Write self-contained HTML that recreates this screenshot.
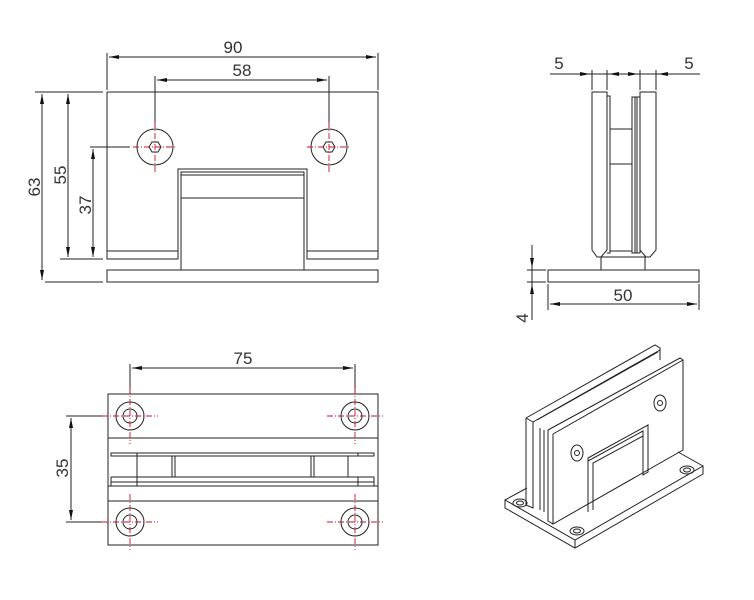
<!DOCTYPE html>
<html><head><meta charset="utf-8"><style>
html,body{margin:0;padding:0;background:#fff;}
svg{display:block;}
text{font-family:"Liberation Sans",sans-serif;font-size:17px;fill:#333;}
</style></head><body>
<svg width="754" height="600" viewBox="0 0 754 600" xmlns="http://www.w3.org/2000/svg">
<defs>
<marker id="a" markerWidth="10" markerHeight="6" refX="10" refY="3" orient="auto-start-reverse" markerUnits="userSpaceOnUse"><path d="M0,1 L10,3 L0,5z" fill="#111"/></marker>
</defs>
<g fill="none" stroke="#222" stroke-width="1">
<path d="M107,92 H378 V259 H307 V251 H378 M107,92 V259 H178 V251 H107"/>
<rect x="107" y="270" width="271" height="12"/>
<path d="M178,259 V169 H307 V259 M181,270 V172 H304 V270 M181,175 H304 M181,198 H304"/>
<circle cx="155" cy="147" r="18"/><circle cx="329" cy="147" r="18"/>
<polygon points="161,147 158,152 152,152 149,147 152,142 158,142"/>
<polygon points="335,147 332,152 326,152 323,147 326,142 332,142"/>
<path d="M107,53 V90 M378,53 V90 M155,76 V128 M329,76 V128"/>
<path d="M109,57 H376" marker-start="url(#a)" marker-end="url(#a)"/>
<path d="M157,80 H327" marker-start="url(#a)" marker-end="url(#a)"/>
<path d="M35,92 H103 M45,282 H103 M60,259 H103 M90,147 H130"/>
<path d="M42,94 V280" marker-start="url(#a)" marker-end="url(#a)"/>
<path d="M68,94 V257" marker-start="url(#a)" marker-end="url(#a)"/>
<path d="M93,149 V257" marker-start="url(#a)" marker-end="url(#a)"/>

<path d="M592,92 H607 V250 L601,257 L597,257 L592,250 Z"/>
<path d="M640,92 H656 V250 L650,257 L646,257 L640,250 Z"/>
<path d="M607,96 H610 V253 H607 M610,129 H632 M610,164 H632 M610,251 H632 M632,97 H640 V253 H632 Z M635,97 V253 M637,97 V253"/>
<rect x="601" y="257" width="44" height="13"/>
<rect x="548" y="270" width="151" height="12"/>
<path d="M592,70 V90 M607,70 V90 M640,70 V90 M656,70 V90 M550,74 H700"/>
<path d="M578,74 H590" marker-end="url(#a)"/><path d="M621,74 H609" marker-end="url(#a)"/>
<path d="M626,74 H638" marker-end="url(#a)"/><path d="M670,74 H658" marker-end="url(#a)"/>
<path d="M548,284 V310 M699,284 V310"/>
<path d="M550,304 H697" marker-start="url(#a)" marker-end="url(#a)"/>
<path d="M527,270 H546 M527,282 H546 M532,245 V320"/>
<path d="M532,257 V268" marker-end="url(#a)"/><path d="M532,296 V284" marker-end="url(#a)"/>

<rect x="108" y="394" width="270" height="151"/>
<path d="M108,438 H378 M108,486 H378 M108,501 H378 M111,453 H374 V456 H111 Z M111,477 H374 V486 M111,477 V486 M111,482 H374 M137,453 V456 M358,453 V456 M137,477 V486 M358,477 V486"/>
<path d="M137,456 V477 M172,456 V477 M175,456 V477 M311,456 V477 M314,456 V477 M348,456 V477"/>
<circle cx="130" cy="416" r="14"/><circle cx="130" cy="416" r="7"/>
<circle cx="355" cy="416" r="14"/><circle cx="355" cy="416" r="7"/>
<circle cx="130" cy="522" r="14"/><circle cx="130" cy="522" r="7"/>
<circle cx="355" cy="522" r="14"/><circle cx="355" cy="522" r="7"/>
<path d="M130,364 V394 M355,364 V394"/>
<path d="M132,368 H353" marker-start="url(#a)" marker-end="url(#a)"/>
<path d="M66,416 H105 M66,522 H105"/>
<path d="M71,418 V520" marker-start="url(#a)" marker-end="url(#a)"/>

<path d="M505,500 L575,540 L703,466 L703,474 L575,548 L505,508 Z M575,540 V548"/>
<path d="M505,500 L527,488 M678,452 L703,466"/>
<ellipse cx="520" cy="503" rx="7" ry="4"/><ellipse cx="520" cy="503" rx="3.5" ry="2"/>
<ellipse cx="577" cy="531" rx="7" ry="4"/><ellipse cx="577" cy="531" rx="3.5" ry="2"/>
<ellipse cx="687" cy="470" rx="7" ry="4"/><ellipse cx="687" cy="470" rx="3.5" ry="2"/>
<path d="M526,418 L655,345 L660,348 L660,360 M526,418 V505 L533,508 V422 L660,350 M533,422 L526,418"/>
<path d="M537,420 L658,352 M540,428 V510 M544,430 V512"/>
<path d="M548,430 L680,358 L683,360 V450 L553,524 L548,521 Z M553,434 L683,360 M553,434 V524"/>
<path d="M588,458 L648,425 V472 L643,475 V431 L588,461 Z M588,461 V512 M643,436 L593,463 V510"/>
<ellipse cx="577" cy="453" rx="6" ry="8"/><circle cx="577" cy="453" r="2.5"/>
<ellipse cx="660" cy="403" rx="6" ry="8"/><circle cx="660" cy="403" r="2.5"/>
</g>
<g stroke="#c8102e" stroke-width="0.9" stroke-dasharray="6,2,1,2" fill="none">
<path d="M133,147 H177 M155,122 V172 M307,147 H351 M329,122 V172"/>
<path d="M102,416 H158 M130,388 V444 M327,416 H383 M355,388 V444"/>
<path d="M102,522 H158 M130,494 V550 M327,522 H383 M355,494 V550"/>
</g>
<g>
<text x="233" y="53" text-anchor="middle">90</text>
<text x="242" y="76" text-anchor="middle">58</text>
<text transform="translate(40,187) rotate(-90)" text-anchor="middle">63</text>
<text transform="translate(66,175) rotate(-90)" text-anchor="middle">55</text>
<text transform="translate(91,205) rotate(-90)" text-anchor="middle">37</text>
<text x="559" y="69" text-anchor="middle">5</text>
<text x="689" y="69" text-anchor="middle">5</text>
<text x="623" y="301" text-anchor="middle">50</text>
<text transform="translate(528,318) rotate(-90)" text-anchor="middle">4</text>
<text x="243" y="364" text-anchor="middle">75</text>
<text transform="translate(68,468) rotate(-90)" text-anchor="middle">35</text>
</g>
</svg>
</body></html>
